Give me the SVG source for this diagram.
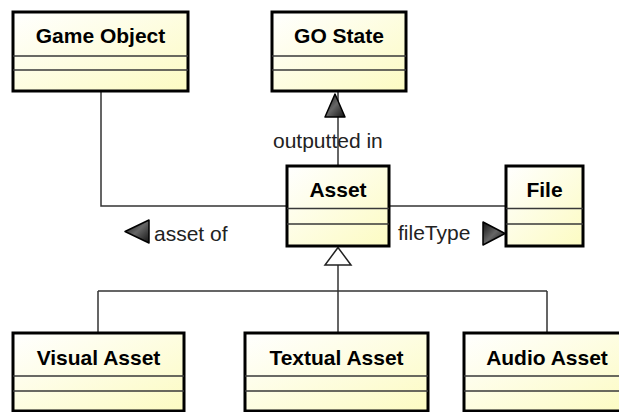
<svg xmlns="http://www.w3.org/2000/svg" width="619" height="412" viewBox="0 0 619 412">
  <defs>
    <linearGradient id="classFill" x1="0" y1="0" x2="1" y2="1">
      <stop offset="0" stop-color="#FFFFFF"/>
      <stop offset="1" stop-color="#FCFBC2"/>
    </linearGradient>
    <linearGradient id="dirFill" x1="0" y1="0" x2="1" y2="1">
      <stop offset="0" stop-color="#111111"/>
      <stop offset="0.5" stop-color="#666666"/>
      <stop offset="1" stop-color="#111111"/>
    </linearGradient>
    <style>
      .box { fill: url(#classFill); stroke: #000000; stroke-width: 3; }
      .div { stroke: #383838; stroke-width: 1.5; fill: none; }
      .title { font-family: "Liberation Sans", Arial, sans-serif; font-size: 21px; font-weight: bold; fill: #000000; text-anchor: middle; }
      .link { stroke: #333333; stroke-width: 1.5; fill: none; }
      .label { font-family: "Liberation Sans", Arial, sans-serif; font-size: 21px; fill: #222222; }
      .dir { fill: url(#dirFill); stroke: #000000; stroke-width: 1.5; stroke-linejoin: round; }
      .gen { fill: #FFFFFF; stroke: #222222; stroke-width: 1.5; }
    </style>
  </defs>
  <rect width="619" height="412" fill="#FFFFFF"/>

  <!-- connectors -->
  <g id="connectors">
    <!-- Game Object - Asset -->
    <path class="link" d="M101,91 V206 H287"/>
    <polygon class="dir" points="125,231.5 149,220 149,243"/>
    <text class="label" x="154" y="241">asset of</text>

    <!-- Asset -> GO State -->
    <path class="link" d="M338,166 V91"/>
    <polygon class="dir" points="335,94 325,117 345,117"/>
    <text class="label" x="273" y="148">outputted in</text>

    <!-- Asset - File -->
    <path class="link" d="M389,206 H506"/>
    <text class="label" x="398" y="240">fileType</text>
    <polygon class="dir" points="483,222 483,245 505,233.5"/>

    <!-- generalization -->
    <path class="link" d="M338,265 V291 M98,291 H547 M98,291 V333 M338,291 V333 M547,291 V333"/>
    <polygon class="gen" points="338,247.5 325,265 351,265"/>
  </g>

  <g id="game-object">
    <rect class="box" x="13" y="12" width="175" height="79"/>
    <path class="div" d="M13,56 H188 M13,70 H188"/>
    <text class="title" x="100.5" y="43">Game Object</text>
  </g>

  <g id="go-state">
    <rect class="box" x="272" y="12" width="134" height="79"/>
    <path class="div" d="M272,56 H406 M272,70 H406"/>
    <text class="title" x="339" y="43">GO State</text>
  </g>

  <g id="asset">
    <rect class="box" x="287" y="166" width="102" height="80"/>
    <path class="div" d="M287,208.5 H389 M287,224 H389"/>
    <text class="title" x="338" y="197">Asset</text>
  </g>

  <g id="file">
    <rect class="box" x="506" y="166" width="77" height="80"/>
    <path class="div" d="M506,208.5 H583 M506,224 H583"/>
    <text class="title" x="544.5" y="197">File</text>
  </g>

  <g id="visual-asset">
    <rect class="box" x="13" y="333" width="171" height="78"/>
    <path class="div" d="M13,376 H184 M13,391 H184"/>
    <text class="title" x="98.5" y="365">Visual Asset</text>
  </g>

  <g id="textual-asset">
    <rect class="box" x="245" y="333" width="183" height="78"/>
    <path class="div" d="M245,376 H428 M245,391 H428"/>
    <text class="title" x="336.5" y="365">Textual Asset</text>
  </g>

  <g id="audio-asset">
    <rect class="box" x="464" y="333" width="166" height="78"/>
    <path class="div" d="M464,376 H630 M464,391 H630"/>
    <text class="title" x="547" y="365">Audio Asset</text>
  </g>
</svg>
